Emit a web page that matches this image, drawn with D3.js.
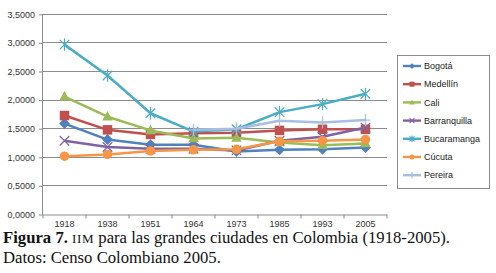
<!DOCTYPE html>
<html><head><meta charset="utf-8">
<script src="https://cdn.jsdelivr.net/npm/d3@7"></script>
<style>body{margin:0;background:#fff}svg{display:block}</style>
</head><body>
<svg id="c" width="496" height="273"></svg>
<script>
const years = ["1918","1938","1951","1964","1973","1985","1993","2005"];
const yTicks = [0,0.5,1,1.5,2,2.5,3,3.5];
const bogota       = [1.59,1.31,1.22,1.22,1.10,1.13,1.14,1.17];
const medellin     = [1.73,1.48,1.40,1.42,1.43,1.47,1.49,1.49];
const cali         = [2.06,1.71,1.47,1.33,1.34,1.26,1.21,1.24];
const barranquilla = [1.29,1.18,1.15,1.15,1.12,1.29,1.36,1.52];
const bucaramanga  = [2.97,2.43,1.77,1.45,1.49,1.79,1.93,2.11];
const cucuta       = [1.02,1.05,1.11,1.13,1.14,1.28,1.29,1.31];
const pereira      = [null,null,null,1.48,1.50,1.64,1.61,1.65];
const seriesNames = ["Bogotá","Medellín","Cali","Barranquilla","Bucaramanga","Cúcuta","Pereira"];
const seriesColors = ["#4F81BD","#C0504D","#9BBB59","#8064A2","#4BACC6","#F79646","#A7BFE0"];
const seriesMarkers = ["diamond","square","triangle","x","star","circle","plus"];
const seriesValues = [bogota,medellin,cali,barranquilla,bucaramanga,cucuta,pereira];

const svg = d3.select("#c");
const m = {l:43, r:387, t:14.3, b:214.5};
const x = d3.scaleBand().domain(years).range([m.l, m.r]);
const y = d3.scaleLinear().domain([0,3.5]).range([m.b, m.t]);
const fmt = v => d3.format(".4f")(v).replace(".", ",");

// gridlines
svg.append("g").selectAll("line").data(yTicks.filter(d=>d>0)).join("line")
  .attr("x1", m.l).attr("x2", m.r).attr("y1", d=>y(d)).attr("y2", d=>y(d))
  .attr("stroke", "#8c8c8c").attr("stroke-width", 1).attr("shape-rendering","crispEdges");

// y axis
const ya = svg.append("g").attr("transform", `translate(${m.l},0)`)
  .call(d3.axisLeft(y).tickValues(yTicks).tickFormat(fmt).tickSize(4).tickPadding(4));
ya.select(".domain").attr("stroke","#8c8c8c").attr("d", `M-0.5,${m.b}V${m.t}`);
ya.selectAll(".tick line").attr("stroke","#8c8c8c");
ya.selectAll("text").attr("font-family","'Liberation Sans', Arial, sans-serif").attr("font-size","9px").attr("fill","#333");

// x axis
const xa = svg.append("g").attr("transform", `translate(0,${m.b})`)
  .call(d3.axisBottom(x).tickSize(0).tickPadding(6));
xa.select(".domain").attr("stroke","#8c8c8c").attr("d", `M${m.l},0.5H${m.r}`);
xa.selectAll("text").attr("font-family","'Liberation Sans', Arial, sans-serif").attr("font-size","9px").attr("fill","#333");
svg.append("g").selectAll("line").data(d3.range(years.length+1)).join("line")
  .attr("x1", i => m.l + i*x.step()).attr("x2", i => m.l + i*x.step())
  .attr("y1", m.b).attr("y2", m.b+4).attr("stroke","#8c8c8c");

function marker(g, type, color, s) {
  const r = s/2;
  if (type==="diamond") g.append("path").attr("d",`M0,${-r*1.15}L${r*1.15},0L0,${r*1.15}L${-r*1.15},0Z`).attr("fill",color);
  else if (type==="square") g.append("rect").attr("x",-r).attr("y",-r).attr("width",s).attr("height",s).attr("fill",color);
  else if (type==="triangle") g.append("path").attr("d",`M0,${-r*1.2}L${r*1.1},${r*0.8}L${-r*1.1},${r*0.8}Z`).attr("fill",color);
  else if (type==="circle") g.append("circle").attr("r",r).attr("fill",color);
  else if (type==="x") g.append("path").attr("d",`M${-r},${-r}L${r},${r}M${r},${-r}L${-r},${r}`).attr("stroke",color).attr("stroke-width",1.2).attr("fill","none");
  else if (type==="star") g.append("path").attr("d",`M${-r},${-r}L${r},${r}M${r},${-r}L${-r},${r}M0,${-r*1.3}V${r*1.3}`).attr("stroke",color).attr("stroke-width",1.2).attr("fill","none");
  else if (type==="plus") g.append("path").attr("d",`M0,${-r*1.3}V${r*1.3}M${-r},0H${r}`).attr("stroke",color).attr("stroke-width",1.2).attr("fill","none");
}

const line = d3.line().defined(d=>d.v!=null).x(d=>x(d.yr)+x.bandwidth()/2).y(d=>y(d.v));
seriesValues.forEach((vals, i) => {
  const data = years.map((yr,j)=>({yr, v: vals[j]}));
  const g = svg.append("g");
  g.append("path").datum(data).attr("d", line).attr("fill","none")
    .attr("stroke", seriesColors[i]).attr("stroke-width", 2.5).attr("stroke-linejoin","round");
  data.filter(d=>d.v!=null).forEach(d => {
    const mg = g.append("g").attr("transform",`translate(${x(d.yr)+x.bandwidth()/2},${y(d.v)})`);
    marker(mg, seriesMarkers[i], seriesColors[i], 9.5);
  });
});

// legend
const lg = svg.append("g");
lg.append("rect").attr("x",397.5).attr("y",55.5).attr("width",92).attr("height",133)
  .attr("fill","#fff").attr("stroke","#8c8c8c");
seriesNames.forEach((n,i) => {
  const yy = 66 + i*18.2;
  lg.append("line").attr("x1",403).attr("x2",421).attr("y1",yy).attr("y2",yy)
    .attr("stroke",seriesColors[i]).attr("stroke-width",2.4);
  const mg = lg.append("g").attr("transform",`translate(412,${yy})`);
  marker(mg, seriesMarkers[i], seriesColors[i], 5);
  lg.append("text").attr("x",424).attr("y",yy+3.2).text(n)
    .attr("font-family","'Liberation Sans', Arial, sans-serif").attr("font-size","9px").attr("fill","#222");
});

// caption
const cap = svg.append("text").attr("x",3).attr("y",242.5)
  .attr("font-family","'Liberation Serif', 'DejaVu Serif', serif").attr("font-size","16.7px").attr("fill","#111");
cap.append("tspan").attr("font-weight","bold").text("Figura 7.");
cap.append("tspan").text(" ");
cap.append("tspan").attr("font-size","13px").attr("letter-spacing","0.6px").text("IIM");
cap.append("tspan").text(" para las grandes ciudades en Colombia (1918-2005).");
svg.append("text").attr("x",3).attr("y",262.5)
  .attr("font-family","'Liberation Serif', 'DejaVu Serif', serif").attr("font-size","16.7px").attr("fill","#111")
  .text("Datos: Censo Colombiano 2005.");
</script>
</body></html>
